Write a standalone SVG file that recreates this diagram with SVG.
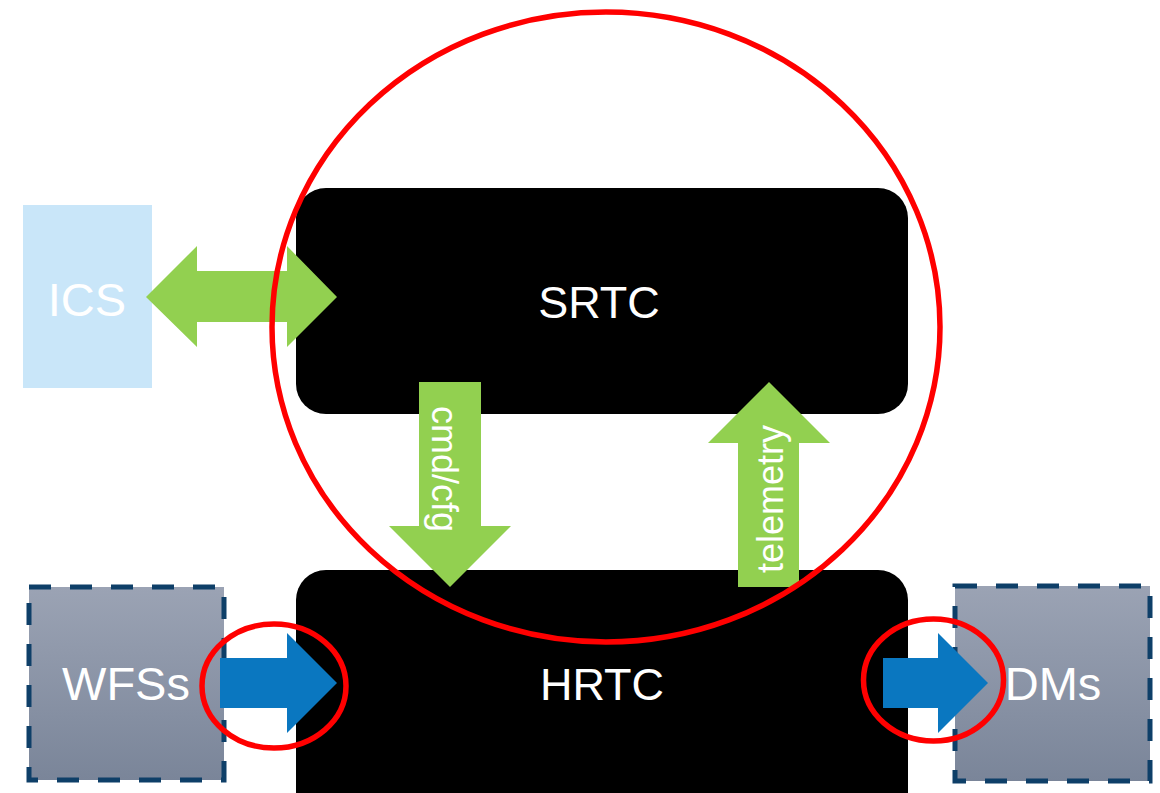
<svg xmlns="http://www.w3.org/2000/svg" width="1160" height="793" viewBox="0 0 1160 793">
  <defs>
    <linearGradient id="greyFill" x1="0" y1="0" x2="0" y2="1">
      <stop offset="0" stop-color="#9ba3b4"/>
      <stop offset="1" stop-color="#7a8599"/>
    </linearGradient>
    <style>
      .core { fill: #000000; }
      .label { font-family: "Liberation Sans", Arial, sans-serif; fill: #ffffff; text-anchor: middle; }
      .big { font-size: 45px; }
      .side { font-size: 47px; }
      .vert { font-size: 36px; }
      .io { fill: url(#greyFill); stroke: #0e3f68; stroke-width: 5; stroke-dasharray: 22 19; }
      .green { fill: #92d050; }
      .blue { fill: #0a77c0; }
      .ring { fill: none; stroke: #ff0000; stroke-width: 5.5; }
    </style>
  </defs>

  <rect width="1160" height="793" fill="#ffffff"/>

  <!-- external interface boxes -->
  <g id="ics">
    <rect x="23" y="205" width="129" height="183" fill="#c9e6f9"/>
    <text class="label side" x="87" y="316">ICS</text>
  </g>

  <g id="wfss">
    <rect class="io" x="29" y="587" width="195" height="193"/>
    <text class="label side" x="126" y="700">WFSs</text>
  </g>

  <g id="dms">
    <rect class="io" x="955" y="586" width="195" height="195"/>
    <text class="label side" x="1053" y="700">DMs</text>
  </g>

  <!-- real-time controller blocks -->
  <g id="srtc">
    <rect class="core" x="296" y="188" width="612" height="226" rx="30" ry="30"/>
    <text class="label big" x="599" y="318">SRTC</text>
  </g>

  <g id="hrtc">
    <rect class="core" x="296" y="570" width="612" height="260" rx="30" ry="30"/>
    <text class="label big" x="602" y="700">HRTC</text>
  </g>

  <!-- block arrows between components -->
  <g id="connectors">
    <!-- ICS <-> SRTC -->
    <polygon class="green" points="146,297 197,246 197,271 287,271 287,246 337,297 287,347 287,322 197,322 197,347"/>
    <!-- SRTC -> HRTC commands -->
    <g id="cmd-arrow">
      <polygon class="green" points="419,382 481,382 481,526 511,526 450,587 389,526 419,526"/>
      <text class="label vert" transform="translate(432,469) rotate(90)">cmd/cfg</text>
    </g>
    <!-- HRTC -> SRTC telemetry -->
    <g id="telemetry-arrow">
      <polygon class="green" points="769,382 830,443 799,443 799,587 738,587 738,443 708,443"/>
      <text class="label vert" transform="translate(783,499) rotate(-90)">telemetry</text>
    </g>
    <!-- WFSs -> HRTC -->
    <polygon class="blue" points="220,658 287,658 287,633 337,683 287,733 287,708 220,708"/>
    <!-- HRTC -> DMs -->
    <polygon class="blue" points="883,658 938,658 938,633 988,683 938,733 938,708 883,708"/>
  </g>

  <!-- highlight rings -->
  <g id="highlights">
    <ellipse class="ring" cx="606" cy="327" rx="334" ry="315"/>
    <ellipse class="ring" cx="274" cy="686" rx="72" ry="62"/>
    <ellipse class="ring" cx="933.5" cy="680" rx="70" ry="61"/>
  </g>
</svg>
